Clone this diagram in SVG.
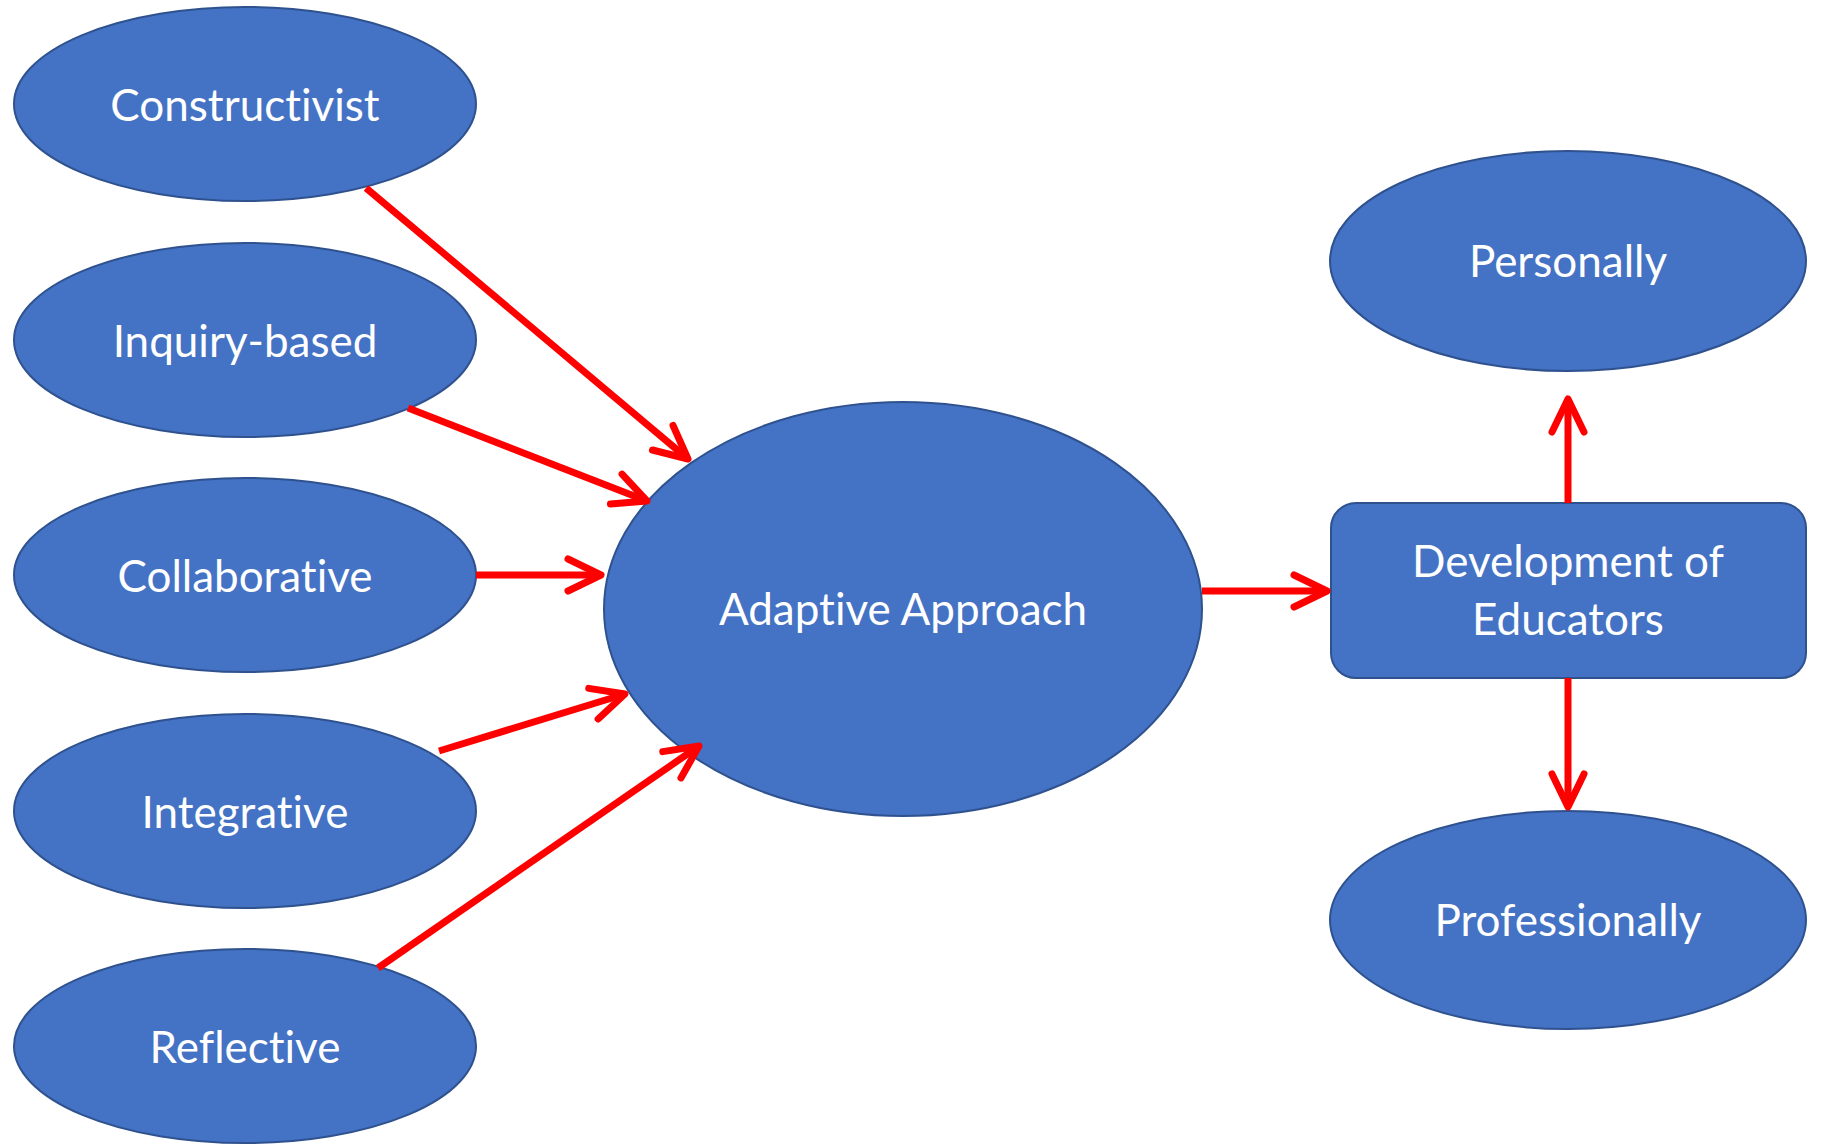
<svg xmlns="http://www.w3.org/2000/svg" width="1821" height="1144" viewBox="0 0 1821 1144">
<style>
.n{fill:#4472C4;stroke:#2F528F;stroke-width:2}
.t{fill:#fff;font-family:Lato,"Open Sans",sans-serif;font-size:44px;text-anchor:middle;font-variant-ligatures:none;font-feature-settings:"liga" 0}
.c{stroke:#FF0000;stroke-width:7;fill:none;marker-end:url(#ah)}
</style>
<defs>
<marker id="ah" markerUnits="userSpaceOnUse" viewBox="-40 -20 44 40" markerWidth="44" markerHeight="40" refX="0" refY="0" orient="auto" overflow="visible">
<path d="M-33,-16 L0,0 L-33,16" fill="none" stroke="#FF0000" stroke-width="7" stroke-linecap="round" stroke-linejoin="round"/>
</marker>
</defs>
<rect width="1821" height="1144" fill="#fff"/>
<g id="constructivist"><ellipse class="n" cx="245" cy="104" rx="231" ry="97"/><text class="t" x="245" y="121">Constructivist</text></g>
<g id="inquiry"><ellipse class="n" cx="245" cy="340" rx="231" ry="97"/><text class="t" x="245" y="357">Inquiry-based</text></g>
<g id="collaborative"><ellipse class="n" cx="245" cy="575" rx="231" ry="97"/><text class="t" x="245" y="592">Collaborative</text></g>
<g id="integrative"><ellipse class="n" cx="245" cy="811" rx="231" ry="97"/><text class="t" x="245" y="828">Integrative</text></g>
<g id="reflective"><ellipse class="n" cx="245" cy="1046" rx="231" ry="97"/><text class="t" x="245" y="1063">Reflective</text></g>
<g id="adaptive"><ellipse class="n" cx="903" cy="609" rx="299" ry="207"/><text class="t" x="903" y="625">Adaptive Approach</text></g>
<g id="development"><rect class="n" x="1331" y="503" width="475" height="175" rx="25"/><text class="t" x="1568" y="577">Development of</text><text class="t" x="1568" y="635">Educators</text></g>
<g id="personally"><ellipse class="n" cx="1568" cy="261" rx="238" ry="110"/><text class="t" x="1568" y="277">Personally</text></g>
<g id="professionally"><ellipse class="n" cx="1568" cy="920" rx="238" ry="109"/><text class="t" x="1568" y="936">Professionally</text></g>
<g id="connectors">
<line class="c" x1="366" y1="188" x2="688" y2="459"/>
<line class="c" x1="408" y1="408" x2="647" y2="501"/>
<line class="c" x1="476" y1="575" x2="601" y2="575"/>
<line class="c" x1="439" y1="751" x2="625" y2="694"/>
<line class="c" x1="378" y1="968" x2="699" y2="746"/>
<line class="c" x1="1202" y1="591" x2="1327" y2="591"/>
<line class="c" x1="1568" y1="503" x2="1568" y2="399"/>
<line class="c" x1="1568" y1="678" x2="1568" y2="807"/>
</g>
</svg>
